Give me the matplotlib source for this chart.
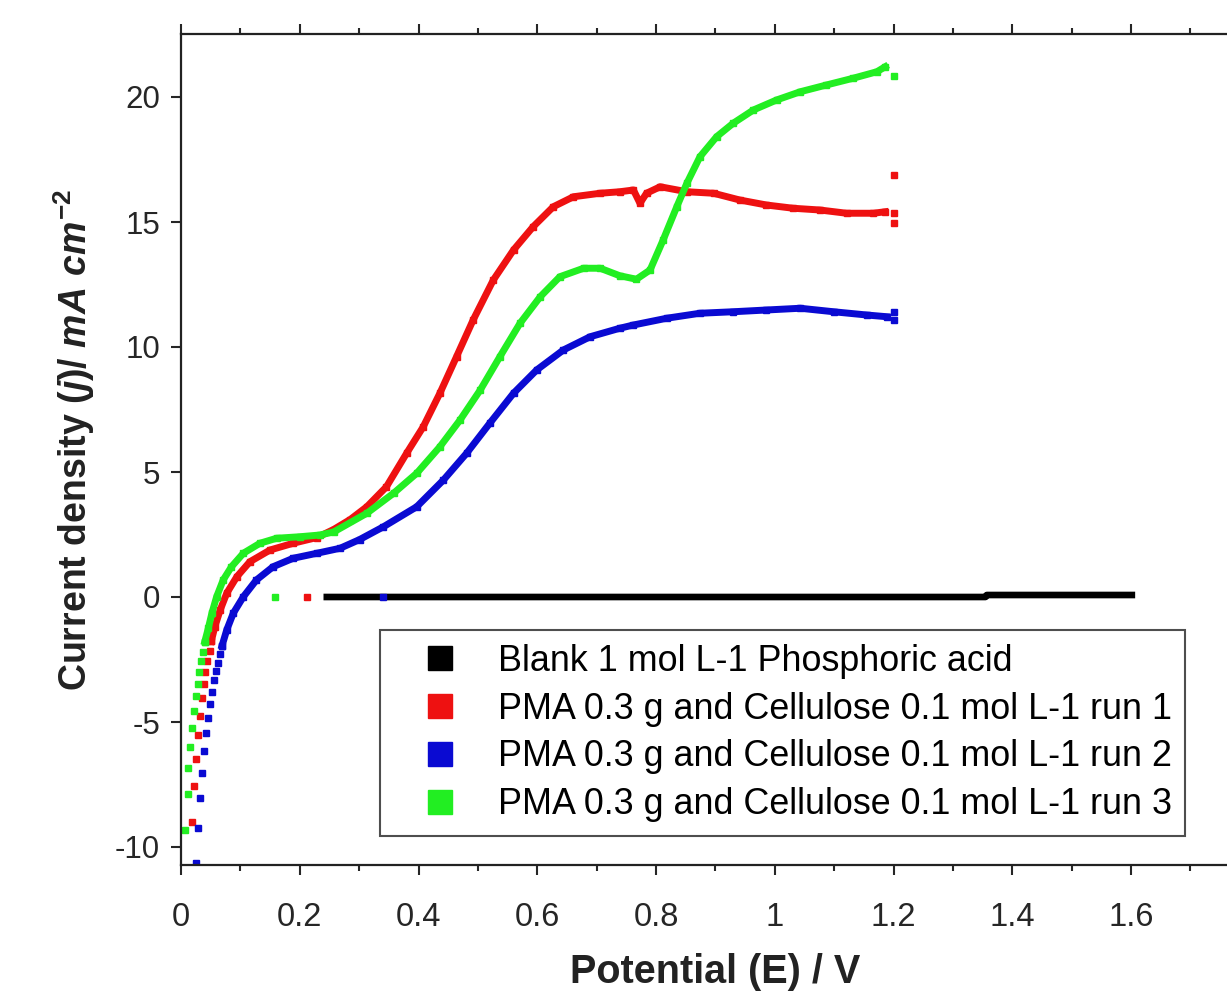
import matplotlib
matplotlib.use('Agg')
import matplotlib.pyplot as plt
from matplotlib import font_manager
from matplotlib.lines import Line2D
from matplotlib.ticker import MultipleLocator

# fonts: Arial-like, narrow for axis titles if available
names = {f.name for f in font_manager.fontManager.ttflist}
narrow = 'Liberation Sans Narrow' if 'Liberation Sans Narrow' in names else 'Liberation Sans'
plt.rcParams['font.family'] = ['Liberation Sans', 'DejaVu Sans']
plt.rcParams['axes.unicode_minus'] = False
plt.rcParams['mathtext.fontset'] = 'custom'
plt.rcParams['mathtext.rm'] = narrow + ':bold'
plt.rcParams['mathtext.it'] = narrow + ':italic:bold'
plt.rcParams['mathtext.bf'] = narrow + ':bold'

# ---- data (E / V, j / mA cm-2) ----
labels = ['Blank 1 mol L-1 Phosphoric acid',
          'PMA 0.3 g and Cellulose 0.1 mol L-1 run 1',
          'PMA 0.3 g and Cellulose 0.1 mol L-1 run 2',
          'PMA 0.3 g and Cellulose 0.1 mol L-1 run 3']

blank_x = [0.24, 1.355, 1.357, 1.607]
blank_y = [0.0, 0.0, 0.08, 0.08]

# run 1 (red)
run1_low_x = [0.019, 0.022, 0.025, 0.029, 0.032, 0.035, 0.038, 0.041, 0.044, 0.048, 0.051]
run1_low_y = [-8.99, -7.56, -6.47, -5.53, -4.75, -4.04, -3.48, -3.01, -2.56, -2.15, -1.77]
run1_x = [0.051, 0.057, 0.066, 0.077, 0.094, 0.116, 0.150, 0.189, 0.229, 0.257, 0.285,
          0.313, 0.346, 0.380, 0.408, 0.436, 0.464, 0.492, 0.526, 0.560, 0.593, 0.627,
          0.661, 0.706, 0.739, 0.762, 0.773, 0.784, 0.807, 0.852, 0.897, 0.941, 0.986,
          1.031, 1.076, 1.121, 1.166, 1.186]
run1_y = [-1.77, -1.19, -0.52, 0.15, 0.81, 1.41, 1.88, 2.15, 2.38, 2.70, 3.10,
          3.61, 4.41, 5.75, 6.81, 8.15, 9.61, 11.08, 12.68, 13.88, 14.81, 15.61,
          16.01, 16.15, 16.21, 16.28, 15.75, 16.15, 16.41, 16.21, 16.15, 15.88, 15.68,
          15.55, 15.48, 15.35, 15.35, 15.41]
run1_end_x = [1.2, 1.2, 1.2, 0.212]
run1_end_y = [16.88, 15.35, 14.97, 0.0]

# run 2 (blue)
run2_low_x = [0.025, 0.029, 0.032, 0.035, 0.039, 0.042, 0.046, 0.049, 0.052, 0.056,
              0.059, 0.062, 0.065, 0.069]
run2_low_y = [-10.65, -9.25, -8.05, -7.03, -6.16, -5.45, -4.83, -4.27, -3.81, -3.33,
              -2.95, -2.63, -2.28, -1.96]
run2_x = [0.069, 0.077, 0.088, 0.105, 0.127, 0.155, 0.189, 0.229, 0.268, 0.301, 0.341,
          0.397, 0.442, 0.481, 0.520, 0.560, 0.599, 0.644, 0.689, 0.739, 0.762, 0.818,
          0.874, 0.930, 0.986, 1.043, 1.099, 1.155, 1.189]
run2_y = [-1.96, -1.32, -0.65, 0.01, 0.68, 1.21, 1.55, 1.75, 1.95, 2.30, 2.81,
          3.61, 4.68, 5.75, 6.95, 8.15, 9.08, 9.88, 10.41, 10.75, 10.88, 11.15,
          11.35, 11.41, 11.48, 11.55, 11.41, 11.28, 11.21]
run2_end_x = [1.2, 1.2, 0.34]
run2_end_y = [11.41, 11.08, 0.0]

# run 3 (green)
run3_low_x = [0.007, 0.012, 0.012, 0.015, 0.019, 0.022, 0.025, 0.028, 0.030, 0.033, 0.037, 0.040]
run3_low_y = [-9.32, -7.88, -6.85, -6.01, -5.23, -4.56, -3.96, -3.48, -3.01, -2.56, -2.19, -1.79]
run3_x = [0.040, 0.046, 0.052, 0.060, 0.071, 0.085, 0.105, 0.133, 0.161, 0.200, 0.234,
          0.257, 0.313, 0.358, 0.397, 0.436, 0.470, 0.504, 0.537, 0.571, 0.605, 0.638,
          0.678, 0.706, 0.739, 0.767, 0.790, 0.812, 0.835, 0.852, 0.874, 0.902, 0.930,
          0.964, 1.003, 1.043, 1.087, 1.132, 1.172, 1.186]
run3_y = [-1.79, -1.25, -0.65, 0.01, 0.68, 1.21, 1.75, 2.15, 2.35, 2.41, 2.48,
          2.60, 3.35, 4.15, 4.95, 6.01, 7.08, 8.28, 9.61, 10.95, 12.01, 12.81,
          13.15, 13.15, 12.85, 12.71, 13.08, 14.28, 15.61, 16.55, 17.61, 18.41, 18.95,
          19.48, 19.88, 20.21, 20.48, 20.75, 21.01, 21.21]
run3_end_x = [1.2, 0.158]
run3_end_y = [20.84, 0.0]

colors = ['black', '#ee1111', '#0a0ad2', '#22ee22']

fig = plt.figure(figsize=(12.27, 9.98), dpi=100)
ax = fig.add_axes([181 / 1227, 1 - 865 / 998, 1068.75 / 1227, 831 / 998])

ax.plot(blank_x, blank_y, color=colors[0], lw=4.8, solid_capstyle='butt')

series = [(run1_low_x, run1_low_y, run1_x, run1_y, run1_end_x, run1_end_y, colors[1]),
          (run2_low_x, run2_low_y, run2_x, run2_y, run2_end_x, run2_end_y, colors[2]),
          (run3_low_x, run3_low_y, run3_x, run3_y, run3_end_x, run3_end_y, colors[3])]
for lx, ly, cx, cy, ex, ey, c in series:
    ax.plot(lx, ly, ls='none', marker='s', ms=4, color=c)
    ax.plot(cx, cy, ls='-', lw=5, marker='s', ms=4, color=c)
    ax.plot(ex, ey, ls='none', marker='s', ms=4, color=c)

ax.set_xlim(0, 1.8)
ax.set_ylim(-10.72, 22.52)
ax.xaxis.set_major_locator(MultipleLocator(0.2))
ax.xaxis.set_minor_locator(MultipleLocator(0.1))
ax.yaxis.set_major_locator(MultipleLocator(5))
ax.set_xticks([0, 0.2, 0.4, 0.6, 0.8, 1.0, 1.2, 1.4, 1.6])
ax.set_xticklabels(['0', '0.2', '0.4', '0.6', '0.8', '1', '1.2', '1.4', '1.6'])
ax.tick_params(axis='x', which='both', direction='out', top=True, labelsize=23.5,
               pad=20, colors='#262626', width=1.5)
ax.tick_params(axis='y', which='both', direction='out', labelsize=22.5,
               pad=8, colors='#262626', width=1.5)
ax.tick_params(which='major', length=7)
ax.tick_params(which='minor', length=4)
for s in ax.spines.values():
    s.set_linewidth(1.6)
    s.set_color('#222222')

ax.set_xlabel('Potential (E) / V', fontsize=28.5, fontweight='bold',
              family=narrow, labelpad=14, color='#222222')
ax.set_ylabel(r'Current density ($\it{j}$)/ $\it{mA\ cm}^{\it{-2}}$', fontsize=27,
              fontweight='bold', family=narrow, color='#222222')
ax.yaxis.set_label_coords(-0.079, 0.511)

handles = [Line2D([], [], ls='none', marker='s', ms=17.5, color=c) for c in colors]
leg = ax.legend(handles, labels, loc='upper left',
                bbox_to_anchor=(380 / 1227, 1 - 630 / 998), bbox_transform=fig.transFigure,
                fontsize=25.8, frameon=True, fancybox=False, borderpad=0.38,
                handlelength=2.57, handletextpad=0.33, labelspacing=0.36, borderaxespad=0)
leg.get_frame().set_edgecolor('#222222')
leg.get_frame().set_linewidth(1.5)

fig.savefig('out.png', dpi=100)
